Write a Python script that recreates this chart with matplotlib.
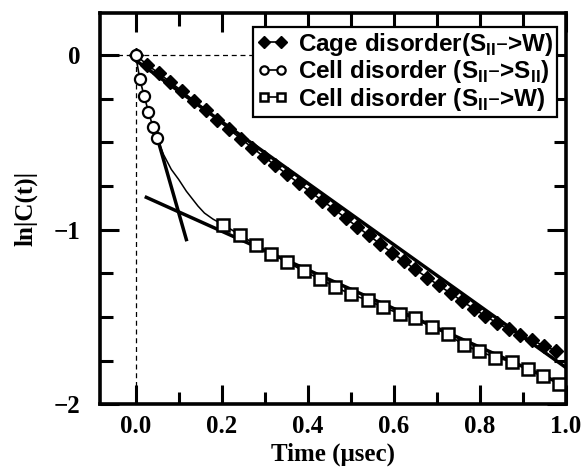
import matplotlib
matplotlib.use("Agg")
import matplotlib.pyplot as plt
from matplotlib.ticker import MultipleLocator, FixedLocator

# Cage disorder (S_II -> W)
t_cage = [0.000, 0.027, 0.054, 0.081, 0.108, 0.136, 0.163, 0.190, 0.217, 0.244,
          0.271, 0.298, 0.325, 0.352, 0.379, 0.407, 0.434, 0.461, 0.488, 0.515,
          0.542, 0.569, 0.596, 0.623, 0.650, 0.678, 0.705, 0.732, 0.759, 0.786,
          0.813, 0.840, 0.867, 0.894, 0.921, 0.948, 0.976]
ln_cage = [0.000, -0.055, -0.105, -0.155, -0.207, -0.262, -0.316, -0.370, -0.425, -0.478,
           -0.530, -0.582, -0.632, -0.684, -0.734, -0.785, -0.834, -0.882, -0.934, -0.983,
           -1.033, -1.083, -1.132, -1.180, -1.228, -1.275, -1.320, -1.364, -1.410, -1.453,
           -1.495, -1.535, -1.572, -1.604, -1.634, -1.664, -1.694]

# Cell disorder (S_II -> S_II), short times
t_ss = [0.000, 0.010, 0.020, 0.030, 0.040, 0.050]
ln_ss = [0.000, -0.139, -0.236, -0.325, -0.410, -0.476]

# crossover between the two regimes
t_mid = [0.050, 0.065, 0.083, 0.100, 0.118, 0.145, 0.160, 0.180, 0.203]
ln_mid = [-0.476, -0.570, -0.655, -0.712, -0.780, -0.865, -0.905, -0.940, -0.971]

# Cell disorder (S_II -> W), long times
t_sw = [0.203, 0.242, 0.279, 0.314, 0.353, 0.391, 0.428, 0.464, 0.501, 0.539, 0.575,
        0.614, 0.649, 0.688, 0.726, 0.764, 0.798, 0.836, 0.874, 0.911, 0.947, 0.984]
ln_sw = [-0.971, -1.029, -1.086, -1.137, -1.187, -1.238, -1.282, -1.328, -1.371, -1.404, -1.444,
         -1.482, -1.509, -1.558, -1.600, -1.663, -1.695, -1.733, -1.756, -1.800, -1.838, -1.882]

# straight-line fits
fit_cage_t, fit_cage_y = [0.0, 1.0], [-0.03, -1.79]
fit_short_t, fit_short_y = [0.050, 0.118], [-0.470, -1.057]
fit_long_t, fit_long_y = [0.025, 1.0], [-0.815, -1.895]

fig = plt.figure(figsize=(5.84, 4.70), dpi=100)
ax = fig.add_axes([0.171, 0.140, 0.798, 0.832])

ax.axhline(0, color="black", lw=0.9, ls=(0, (4, 3)), zorder=1)
ax.plot([0, 0], [-2.2, 0], color="black", lw=0.9, ls=(0, (4, 3)), zorder=1)

ax.plot(fit_cage_t, fit_cage_y, color="black", lw=2.5, zorder=2)
ax.plot(fit_short_t, fit_short_y, color="black", lw=2.5, zorder=2)
ax.plot(fit_long_t, fit_long_y, color="black", lw=2.5, zorder=2)
ax.plot(t_mid, ln_mid, color="black", lw=1.1, zorder=2)

sub = r"S$_{\mathregular{II}}$"
ax.plot(t_cage, ln_cage, color="black", lw=1.2, marker="D", ms=7,
        mfc="black", mec="black", zorder=3,
        label="Cage disorder(" + sub + "\u2013>W)")
ax.plot(t_ss, ln_ss, color="black", lw=1.2, marker="o", ms=8,
        mfc="white", mec="black", mew=1.6, zorder=4,
        label="Cell disorder (" + sub + "\u2013>" + sub + ")")
ax.plot(t_sw, ln_sw, color="black", lw=1.2, marker="s", ms=8,
        mfc="white", mec="black", mew=1.8, zorder=4,
        label="Cell disorder (" + sub + "\u2013>W)")

ax.set_xlim(-0.083, 1.0)
ax.set_ylim(-2.0, 0.24)
ax.xaxis.set_major_locator(MultipleLocator(0.2))
ax.xaxis.set_minor_locator(MultipleLocator(0.1))
ax.yaxis.set_major_locator(FixedLocator([-2, -1, 0]))
ax.yaxis.set_minor_locator(MultipleLocator(0.25))
ax.tick_params(which="both", direction="in", top=True, right=True, width=2.2)
ax.tick_params(which="major", length=14, pad=8)
ax.tick_params(axis="y", which="major", pad=14)
ax.tick_params(which="minor", length=9)
for s in ax.spines.values():
    s.set_linewidth(2.6)

serif = {"family": "Liberation Serif", "weight": "bold", "size": 18}
ax.set_xticks([0.0, 0.2, 0.4, 0.6, 0.8, 1.0])
ax.set_xticklabels(["0.0", "0.2", "0.4", "0.6", "0.8", "1.0"], fontdict=serif)
ax.set_yticklabels(["\u22122", "\u22121", "0"], fontdict=serif)
ax.set_xlabel("Time (\u03bcsec)", fontdict=serif, labelpad=3)
ax.set_ylabel("ln|C(t)|", fontdict=serif, labelpad=12)

leg = ax.legend(loc="upper right", bbox_to_anchor=(0.981, 0.964), numpoints=2,
                handlelength=1.3, handletextpad=0.4, borderpad=0.15,
                labelspacing=0.02, borderaxespad=0.0, fancybox=False,
                framealpha=1, edgecolor="black",
                prop={"family": "Liberation Sans", "weight": "bold", "size": 17.5})
leg.get_frame().set_linewidth(1.6)
for h in leg.legend_handles:
    h.set_markersize(6)

fig.savefig("out.png", dpi=100)
